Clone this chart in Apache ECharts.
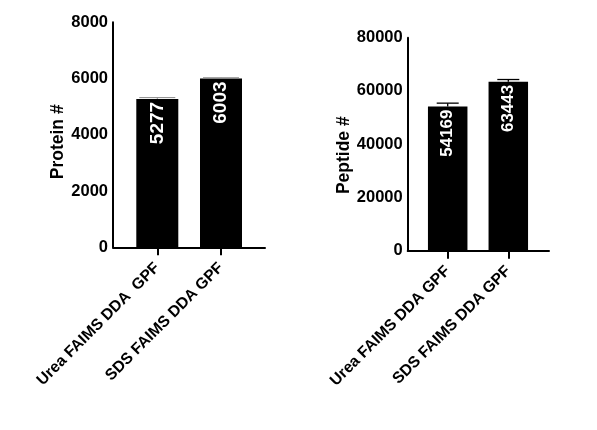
<!DOCTYPE html>
<html><head><meta charset="utf-8">
<script src="https://cdn.jsdelivr.net/npm/echarts@6/dist/echarts.min.js"></script>
<style>html,body{margin:0;padding:0;background:#fff}#c{width:597px;height:430px}</style>
</head><body><div id="c"></div>
<script>
const categoriesLeft = ['Urea FAIMS DDA  GPF', 'SDS FAIMS DDA GPF'];
const categoriesRight = ['Urea FAIMS DDA GPF', 'SDS FAIMS DDA GPF'];
const proteinValues = [5277, 6003];
const proteinErrors = [45, 25];
const peptideValues = [54169, 63443];
const peptideErrors = [1250, 850];
const proteinTicks = [0, 2000, 4000, 6000, 8000];
const peptideTicks = [0, 20000, 40000, 60000, 80000];

const FONT = '"Liberation Sans", Arial, sans-serif';
const chart = echarts.init(document.getElementById('c'));

function frameX(gi) {
  return { gridIndex: gi, type: 'value', min: 0, max: 1,
    axisLine: { show: true, lineStyle: { color: '#000', width: 2 } },
    axisTick: { show: false }, axisLabel: { show: false }, splitLine: { show: false } };
}
function catX(gi, cats) {
  return { gridIndex: gi, type: 'category', data: cats,
    axisLine: { show: false },
    axisTick: { show: true, alignWithLabel: true, length: 8, lineStyle: { color: '#000', width: 2 } },
    axisLabel: { rotate: 45, margin: 18, color: '#000', fontWeight: 'bold', fontSize: 15.7, fontFamily: FONT, interval: 0 },
    splitLine: { show: false } };
}
function frameY(gi, ticks, name, gap, pad) {
  return { gridIndex: gi, type: 'value', min: ticks[0], max: ticks[ticks.length - 1],
    interval: ticks[1] - ticks[0],
    axisLine: { show: true, lineStyle: { color: '#000', width: 2 } },
    axisTick: { show: false },
    axisLabel: { margin: 5, color: '#000', fontWeight: 'bold', fontSize: 16.5, fontFamily: FONT,
      formatter: function (v) { return String(v); } },
    splitLine: { show: false },
    name: name, nameLocation: 'middle', nameGap: gap,
    nameTextStyle: { color: '#000', fontWeight: 'bold', fontSize: 17.5, fontFamily: FONT, padding: pad } };
}
function hiddenY(gi, ticks) {
  return { gridIndex: gi, type: 'value', min: ticks[0], max: ticks[ticks.length - 1], show: false, splitLine: { show: false } };
}
function barSeries(xi, vals, bw, fs) {
  return { type: 'bar', xAxisIndex: xi, yAxisIndex: xi, data: vals, barWidth: bw,
    itemStyle: { color: '#000' },
    label: { show: true, position: 'insideTop', rotate: 90, align: 'right', verticalAlign: 'middle',
      distance: 3, color: '#fff', fontWeight: 'bold', fontSize: fs, fontFamily: FONT } };
}
function errSeries(xi, vals, errs, half, color, lw) {
  return { type: 'custom', xAxisIndex: xi, yAxisIndex: xi, z: 5,
    data: vals.map((v, i) => [i, v, errs[i]]),
    renderItem: function (params, api) {
      const x = api.value(0), y = api.value(1), e = api.value(2);
      const base = api.coord([x, y]);
      const top = api.coord([x, y + e]);
      return { type: 'group', children: [
        { type: 'line', shape: { x1: base[0], y1: base[1], x2: top[0], y2: top[1] }, style: { stroke: color, lineWidth: lw } },
        { type: 'line', shape: { x1: top[0] - half, y1: top[1], x2: top[0] + half, y2: top[1] }, style: { stroke: color, lineWidth: lw } }
      ] };
    } };
}

chart.setOption({
  animation: false,
  backgroundColor: '#fff',
  grid: [
    { left: 113, top: 22.3, width: 152, height: 225 },
    { left: 125.45, top: 22.3, width: 127.4, height: 225 },
    { left: 407.7, top: 37.7, width: 141.3, height: 213 },
    { left: 417.4, top: 37.7, width: 121.2, height: 213 }
  ],
  xAxis: [frameX(0), catX(1, categoriesLeft), frameX(2), catX(3, categoriesRight)],
  yAxis: [frameY(0, proteinTicks, 'Protein #', 46, [0, 14, 0, 0]), hiddenY(1, proteinTicks),
          frameY(2, peptideTicks, 'Peptide #', 55, [0, 22, 0, 0]), hiddenY(3, peptideTicks)],
  series: [
    barSeries(1, proteinValues, 42, 19), errSeries(1, proteinValues, proteinErrors, 18, '#888', 1),
    barSeries(3, peptideValues, 39.5, 17), errSeries(3, peptideValues, peptideErrors, 11, '#000', 1.3)
  ]
});
</script></body></html>
